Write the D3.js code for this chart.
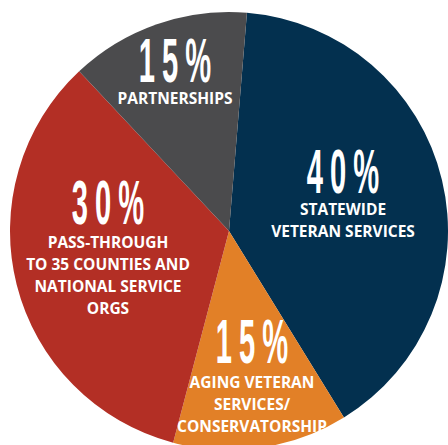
<!DOCTYPE html>
<html>
<head>
<meta charset="utf-8">
<script src="https://cdn.jsdelivr.net/npm/d3@7"></script>
<style>
html,body{margin:0;padding:0;background:#fff;overflow:hidden;}
svg{display:block;}
</style>
</head>
<body>
<svg id="chart" width="448" height="445"></svg>
<script>
const categories = ["Statewide Veteran Services", "Aging Veteran Services/Conservatorship", "Pass-through", "Partnerships"];
const shares = [39.9, 12.9, 33.9, 13.3];
const percentLabels = ["40%", "15%", "30%", "15%"];
const labelLines = [
  ["STATEWIDE", "VETERAN SERVICES"],
  ["AGING VETERAN", "SERVICES/", "CONSERVATORSHIP"],
  ["PASS-THROUGH", "TO 35 COUNTIES AND", "NATIONAL SERVICE", "ORGS"],
  ["PARTNERSHIPS"]
];
const colors = ["#03304f", "#e28027", "#b32f25", "#4b4b4d"];

const W = 448, H = 445;
const cx = 229, cy = 231, R = 219;
const startAngle = 4.7 * Math.PI / 180;

const svg = d3.select("#chart");
const g = svg.append("g").attr("transform", `translate(${cx},${cy})`);

const pie = d3.pie().sort(null).value(d => d)
  .startAngle(startAngle).endAngle(startAngle + 2 * Math.PI);
const arcs = pie(shares);
const arc = d3.arc().innerRadius(0).outerRadius(R);

g.selectAll("path.slice").data(arcs).enter().append("path")
  .attr("class", "slice")
  .attr("d", arc)
  .attr("fill", (d, i) => colors[i]);

// label block placement relative to pie center: x center, baseline of big number, baseline of first line
const labelPos = [
  {dx: 114, big: -38, first: -16},
  {dx: 23, big: 132, first: 157},
  {dx: -121, big: -7, first: 17},
  {dx: -54, big: -149, first: -127}
];
const lineGap = 22;
const bigSize = 62, bigScale = 0.47, bigLs = 15;

arcs.forEach((a, i) => {
  const p = labelPos[i];
  const lg = g.append("g").attr("transform", `translate(${p.dx},0)`);
  lg.append("text")
    .attr("transform", `translate(${bigLs * bigScale / 2},${p.big}) scale(${bigScale},1)`)
    .attr("text-anchor", "middle")
    .attr("font-family", "'Liberation Sans', Arial, sans-serif")
    .attr("font-weight", "bold")
    .attr("font-size", bigSize)
    .attr("letter-spacing", bigLs)
    .attr("fill", "#fff")
    .text(percentLabels[i]);
  labelLines[i].forEach((ln, j) => {
    lg.append("text")
      .attr("x", 0)
      .attr("y", p.first + j * lineGap)
      .attr("text-anchor", "middle")
      .attr("font-family", "'Open Sans', sans-serif")
      .attr("font-weight", "bold")
      .attr("font-size", 15.5)
      .attr("fill", "#fff")
      .text(ln);
  });
});
</script>
</body>
</html>
